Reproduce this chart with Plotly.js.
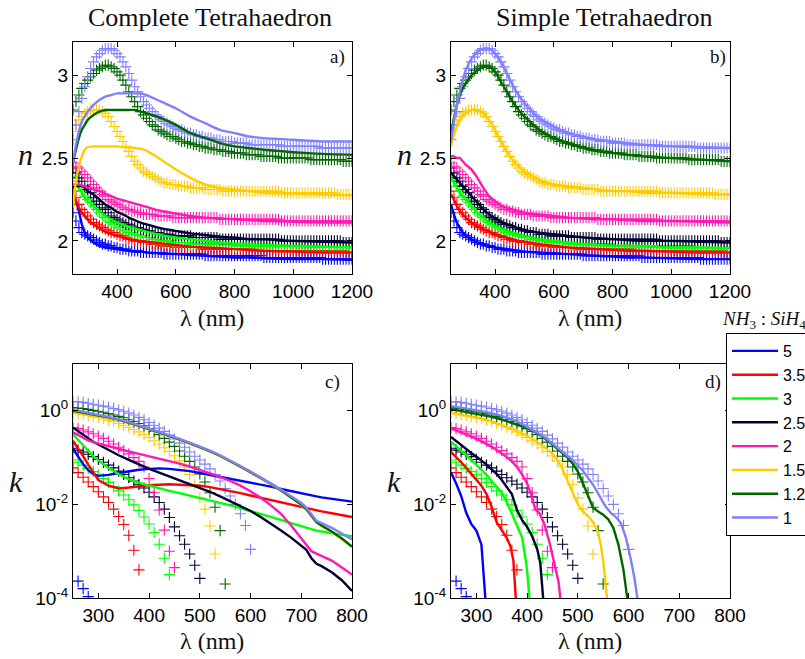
<!DOCTYPE html>
<html><head><meta charset="utf-8">
<script src="https://cdn.plot.ly/plotly-3.0.1.min.js"></script>
<style>html,body{margin:0;padding:0;background:#fff}#chart{width:805px;height:659px}</style>
</head><body><div id="chart"></div>
<script>
// ---------- series ----------
const ratios = ['5','3.5','3','2.5','2','1.5','1.25','1'];
const colors = ['#0000FF','#FF0000','#00FF00','#000033','#FF19B3','#FFCC00','#006600','#8080FF'];

// ---------- measured refractive index n (crosses, panels a & b) ----------
const lamN = [250,260,270,280,290,300,310,320,330,340,350,360,370,380,390,400,410,420,430,440,
450,460,470,480,490,500,510,520,530,540,550,560,570,580,590,600,610,620,630,640,
650,660,670,680,690,700,710,720,730,740,750,760,770,780,790,800,810,820,830,840,
850,860,870,880,890,900,910,920,930,940,950,960,970,980,990,1000,1010,1020,1030,1040,
1050,1060,1070,1080,1090,1100,1110,1120,1130,1140,1150,1160,1170,1180,1190,1200];
const nMeas_5 = [2.17,2.12,2.08,2.05,2.04,2.03,2.02,2.01,2.00,1.99, 1.98,1.98,1.97,1.97,1.96,1.96,1.95,1.95,1.95,1.94,
1.94,1.94,1.94,1.93,1.93,1.93,1.93,1.93,1.93,1.93, 1.93,1.92,1.92,1.92,1.92,1.92,1.92,1.92,1.92,1.92,
1.92,1.92,1.92,1.92,1.92,1.91,1.91,1.91,1.91,1.91, 1.91,1.91,1.91,1.91,1.91,1.91,1.91,1.91,1.91,1.91,
1.91,1.91,1.91,1.91,1.91,1.90,1.90,1.90,1.90,1.90, 1.90,1.90,1.90,1.90,1.90,1.90,1.90,1.90,1.90,1.90,
1.90,1.90,1.90,1.90,1.90,1.89,1.89,1.89,1.89,1.89, 1.89,1.89,1.89,1.89,1.89,1.89];
const nMeas_35 = [2.30,2.26,2.22,2.19,2.17,2.15,2.13,2.11,2.10,2.09, 2.08,2.07,2.06,2.05,2.05,2.04,2.03,2.03,2.02,2.01,
2.01,2.00,2.00,2.00,1.99,1.99,1.99,1.98,1.98,1.98, 1.97,1.97,1.97,1.97,1.97,1.96,1.96,1.96,1.96,1.96,
1.96,1.96,1.96,1.96,1.95,1.95,1.95,1.95,1.95,1.95, 1.95,1.95,1.95,1.95,1.95,1.95,1.95,1.95,1.95,1.95,
1.95,1.95,1.94,1.94,1.94,1.94,1.94,1.94,1.94,1.94, 1.94,1.94,1.94,1.94,1.94,1.94,1.94,1.94,1.94,1.94,
1.94,1.94,1.94,1.94,1.94,1.94,1.94,1.94,1.94,1.94, 1.94,1.94,1.94,1.93,1.93,1.93];
const nMeas_3 = [2.39,2.36,2.33,2.30,2.27,2.25,2.23,2.21,2.19,2.17, 2.15,2.14,2.12,2.11,2.10,2.09,2.08,2.07,2.06,2.05,
2.05,2.04,2.04,2.03,2.03,2.02,2.02,2.01,2.01,2.01, 2.00,2.00,2.00,2.00,1.99,1.99,1.99,1.99,1.99,1.99,
1.98,1.98,1.98,1.98,1.98,1.98,1.98,1.98,1.98,1.98, 1.98,1.98,1.98,1.98,1.98,1.97,1.97,1.97,1.97,1.97,
1.97,1.97,1.97,1.97,1.97,1.97,1.97,1.97,1.97,1.97, 1.97,1.97,1.97,1.97,1.97,1.97,1.97,1.97,1.97,1.97,
1.97,1.97,1.96,1.96,1.96,1.96,1.96,1.96,1.96,1.96, 1.96,1.96,1.96,1.96,1.96,1.96];
const nMeas_25 = [2.44,2.41,2.38,2.36,2.33,2.31,2.29,2.26,2.24,2.22, 2.20,2.19,2.17,2.15,2.14,2.13,2.12,2.11,2.10,2.10,
2.09,2.08,2.08,2.07,2.07,2.06,2.06,2.05,2.05,2.05, 2.04,2.04,2.04,2.04,2.03,2.03,2.03,2.03,2.03,2.03,
2.03,2.02,2.02,2.02,2.02,2.02,2.02,2.02,2.02,2.02, 2.01,2.01,2.01,2.01,2.01,2.01,2.01,2.01,2.01,2.01,
2.01,2.01,2.01,2.01,2.01,2.01,2.01,2.01,2.01,2.01, 2.01,2.00,2.00,2.00,2.00,2.00,2.00,2.00,2.00,2.00,
2.00,2.00,2.00,2.00,2.00,2.00,2.00,2.00,2.00,2.00, 2.00,2.00,1.99,1.99,1.99,1.99];
const nMeas_2 = [2.47,2.45,2.44,2.42,2.40,2.38,2.36,2.34,2.32,2.30, 2.28,2.27,2.25,2.24,2.23,2.22,2.21,2.20,2.19,2.19,
2.18,2.18,2.17,2.17,2.16,2.16,2.16,2.16,2.15,2.15, 2.15,2.15,2.15,2.15,2.14,2.14,2.14,2.14,2.14,2.14,
2.14,2.14,2.14,2.14,2.14,2.14,2.14,2.14,2.14,2.14, 2.13,2.13,2.13,2.13,2.13,2.13,2.13,2.13,2.13,2.13,
2.13,2.13,2.13,2.13,2.13,2.13,2.13,2.13,2.13,2.13, 2.13,2.12,2.12,2.12,2.12,2.12,2.12,2.12,2.12,2.12,
2.12,2.12,2.12,2.12,2.12,2.12,2.12,2.12,2.12,2.12, 2.12,2.12,2.12,2.12,2.12,2.12];
const nMeas_15 = [2.66,2.70,2.73,2.75,2.77,2.78,2.79,2.79,2.79,2.79, 2.78,2.77,2.75,2.72,2.69,2.66,2.63,2.60,2.57,2.54,
2.51,2.48,2.46,2.44,2.42,2.41,2.40,2.39,2.38,2.37, 2.36,2.35,2.35,2.34,2.34,2.34,2.33,2.33,2.33,2.33,
2.32,2.32,2.32,2.32,2.32,2.31,2.31,2.31,2.31,2.31, 2.31,2.30,2.30,2.30,2.30,2.30,2.30,2.30,2.30,2.30,
2.30,2.30,2.30,2.30,2.30,2.30,2.30,2.30,2.30,2.30, 2.30,2.29,2.29,2.29,2.29,2.29,2.29,2.29,2.29,2.29,
2.29,2.29,2.29,2.29,2.29,2.29,2.29,2.29,2.29,2.29, 2.28,2.28,2.28,2.28,2.28,2.28];
const nMeas_125 = [2.79,2.84,2.88,2.92,2.95,2.97,2.99,3.01,3.03,3.04, 3.05,3.06,3.06,3.05,3.04,3.02,3.00,2.97,2.94,2.90,
2.87,2.84,2.81,2.78,2.76,2.74,2.72,2.70,2.69,2.67, 2.66,2.65,2.64,2.63,2.63,2.62,2.61,2.60,2.60,2.59,
2.59,2.58,2.58,2.57,2.57,2.56,2.56,2.56,2.55,2.55, 2.55,2.54,2.54,2.54,2.53,2.53,2.53,2.53,2.53,2.52,
2.52,2.52,2.52,2.52,2.51,2.51,2.51,2.51,2.51,2.51, 2.50,2.50,2.50,2.50,2.50,2.50,2.50,2.50,2.50,2.50,
2.50,2.49,2.49,2.49,2.49,2.49,2.49,2.49,2.49,2.49, 2.49,2.49,2.48,2.48,2.48,2.48];
const nMeas_1 = [2.61,2.70,2.78,2.86,2.93,2.99,3.04,3.08,3.11,3.13, 3.15,3.16,3.16,3.16,3.15,3.13,3.11,3.08,3.05,3.01,
2.97,2.93,2.90,2.87,2.84,2.82,2.80,2.78,2.76,2.75, 2.73,2.72,2.71,2.70,2.69,2.68,2.67,2.67,2.66,2.65,
2.65,2.64,2.64,2.63,2.63,2.62,2.62,2.62,2.61,2.61, 2.61,2.60,2.60,2.60,2.60,2.59,2.59,2.59,2.59,2.59,
2.58,2.58,2.58,2.58,2.58,2.58,2.58,2.58,2.58,2.58, 2.58,2.57,2.57,2.57,2.57,2.57,2.57,2.57,2.57,2.57,
2.57,2.57,2.57,2.57,2.56,2.56,2.56,2.56,2.56,2.56, 2.56,2.56,2.56,2.56,2.56,2.56];

// ---------- modelled n ----------
const lamFitN = [250,260,270,280,290,300,320,340,360,380,400,420,440,460,480,500,550,600,650,700,750,800,850,900,1000,1100,1200];
// a) complete tetrahedron
const nA_5   = [2.28,2.24,2.18,2.10,2.05,2.02,1.99,1.97,1.96,1.955,1.95,1.945,1.94,1.935,1.935,1.93,1.925,1.92,1.915,1.91,1.905,1.90,1.90,1.895,1.89,1.89,1.885];
const nA_35  = [2.28,2.24,2.20,2.17,2.15,2.13,2.10,2.075,2.055,2.04,2.03,2.02,2.01,2.005,2.0,1.995,1.985,1.975,1.965,1.96,1.955,1.95,1.945,1.94,1.935,1.93,1.93];
const nA_3   = [2.30,2.33,2.32,2.29,2.26,2.24,2.21,2.18,2.15,2.13,2.11,2.10,2.085,2.075,2.065,2.055,2.035,2.02,2.01,2.0,1.99,1.985,1.98,1.975,1.97,1.965,1.96];
const nA_25  = [2.32,2.33,2.33,2.33,2.32,2.30,2.28,2.25,2.22,2.20,2.175,2.16,2.14,2.125,2.11,2.10,2.075,2.06,2.045,2.035,2.025,2.02,2.01,2.01,2.0,1.995,1.99];
const nA_2   = [2.34,2.34,2.34,2.335,2.33,2.32,2.31,2.30,2.285,2.27,2.255,2.245,2.235,2.225,2.215,2.205,2.18,2.165,2.15,2.14,2.135,2.13,2.125,2.12,2.115,2.11,2.11];
const nA_15  = [2.20,2.36,2.45,2.51,2.55,2.565,2.57,2.57,2.57,2.57,2.57,2.565,2.565,2.56,2.555,2.545,2.49,2.43,2.38,2.34,2.32,2.31,2.30,2.29,2.285,2.28,2.275];
const nA_125 = [2.47,2.55,2.62,2.67,2.70,2.73,2.76,2.78,2.79,2.79,2.79,2.79,2.79,2.79,2.78,2.77,2.74,2.70,2.65,2.62,2.59,2.57,2.56,2.55,2.535,2.525,2.52];
const nA_1   = [2.47,2.58,2.66,2.72,2.75,2.78,2.82,2.85,2.87,2.88,2.89,2.89,2.89,2.89,2.89,2.88,2.84,2.80,2.75,2.71,2.67,2.65,2.63,2.62,2.61,2.60,2.60];
// b) simple tetrahedron
const nB_5   = [2.22,2.16,2.11,2.08,2.05,2.03,2.01,1.99,1.98,1.97,1.96,1.955,1.95,1.945,1.94,1.935,1.93,1.925,1.92,1.915,1.91,1.905,1.90,1.90,1.895,1.89,1.89];
const nB_35  = [2.28,2.25,2.21,2.18,2.16,2.14,2.11,2.09,2.07,2.055,2.04,2.03,2.02,2.01,2.0,1.995,1.98,1.97,1.96,1.955,1.95,1.945,1.94,1.94,1.935,1.93,1.93];
const nB_3   = [2.38,2.35,2.32,2.29,2.27,2.25,2.21,2.17,2.14,2.11,2.09,2.075,2.06,2.05,2.04,2.03,2.01,2.0,1.99,1.98,1.975,1.97,1.97,1.965,1.96,1.96,1.955];
const nB_25  = [2.41,2.39,2.37,2.35,2.33,2.31,2.27,2.23,2.19,2.16,2.135,2.115,2.10,2.09,2.075,2.065,2.05,2.04,2.03,2.02,2.015,2.01,2.005,2.0,2.0,1.995,1.99];
const nB_2   = [2.51,2.51,2.50,2.50,2.48,2.46,2.43,2.38,2.32,2.27,2.24,2.215,2.20,2.19,2.18,2.17,2.16,2.15,2.14,2.135,2.13,2.13,2.125,2.12,2.12,2.115,2.11];
const nB_15  = [2.57,2.64,2.69,2.73,2.76,2.77,2.79,2.79,2.77,2.73,2.67,2.60,2.54,2.49,2.45,2.42,2.37,2.34,2.33,2.32,2.31,2.30,2.30,2.29,2.29,2.28,2.28];
const nB_125 = [2.64,2.74,2.82,2.88,2.92,2.95,3.00,3.03,3.05,3.05,3.02,2.96,2.90,2.84,2.79,2.75,2.67,2.62,2.59,2.56,2.54,2.53,2.52,2.51,2.50,2.49,2.48];
const nB_1   = [2.60,2.72,2.82,2.90,2.97,3.03,3.10,3.14,3.16,3.16,3.13,3.08,3.01,2.94,2.88,2.83,2.74,2.69,2.65,2.63,2.61,2.60,2.59,2.58,2.57,2.565,2.56];

// ---------- measured extinction coefficient, as log10(k) (crosses, panels c & d) ----------
const lamK = [250,260,270,280,290,300,310,320,330,340,350,360,370,380,390,400,410,420,430,440,
450,460,470,480,490,500,510,520,530,540,550,560,570,580,590,600];
const kMeas_5   = [null,-3.64,-3.80,-3.97];
const kMeas_35  = [-1.22,-1.32,-1.42,-1.52,-1.62,-1.73,-1.84,-1.96,-2.10,-2.26,-2.43,-2.66,-2.98,-3.40];
const kMeas_3   = [-1.05,-1.10,-1.16,-1.23,-1.30,-1.37,-1.45,-1.53,-1.62,-1.71,-1.80,-1.90,-2.01,-2.13,-2.27,-2.42,-2.60,-2.85,-3.15,-3.50];
const kMeas_25  = [-0.80,-0.84,-0.88,-0.93,-0.98,-1.04,-1.10,-1.16,-1.22,-1.29,-1.36,-1.43,-1.50,-1.57,-1.65,-1.74,-1.84,-1.96,-2.10,-2.28,-2.48,-2.67,-2.85,-3.06,-3.30,-3.58];
const kMeas_2   = [-0.36,-0.38,-0.41,-0.45,-0.49,-0.54,-0.59,-0.65,-0.71,-0.78,-0.85,-0.92,-1.00,-1.08,-1.20,-1.45,-1.75,-2.12,-2.55,-3.00,-3.35];
const kMeas_15  = [-0.05,-0.06,-0.08,-0.10,-0.12,-0.14,-0.17,-0.20,-0.23,-0.27,-0.31,-0.35,-0.40,-0.45,-0.51,-0.57,-0.64,-0.71,-0.79,-0.87,-0.96,-1.07,-1.20,-1.36,-1.58,-1.86,-2.10,-2.46,-3.06];
const kMeas_125 = [0.07,0.06,0.05,0.03,0.01,-0.01,-0.03,-0.06,-0.09,-0.12,-0.15,-0.19,-0.23,-0.27,-0.32,-0.38,-0.44,-0.51,-0.59,-0.67,-0.76,-0.86,-0.97,-1.08,-1.20,-1.35,-1.52,-1.75,-2.06,-2.56,-3.70];
const kMeas_1   = [0.20,0.19,0.18,0.16,0.14,0.12,0.10,0.08,0.05,0.02,-0.01,-0.05,-0.09,-0.14,-0.19,-0.25,-0.31,-0.37,-0.44,-0.52,-0.60,-0.69,-0.78,-0.88,-0.97,-1.05,-1.14,-1.24,-1.36,-1.50,-1.66,-1.82,-2.00,-2.20,-2.45,-2.96];

// ---------- modelled k, complete tetrahedron (panel c), log10(k) ----------
const lamFitK = [250,260,270,280,290,300,320,340,360,380,400,420,440,460,480,500,520,540,560,580,600,620,640,660,680,700,710,720,730,740,760,780,800];
const kC_5   = [-0.81,-0.98,-1.14,-1.27,-1.35,-1.39,-1.37,-1.33,-1.29,-1.26,-1.24,-1.23,-1.24,-1.26,-1.29,-1.33,-1.37,-1.41,-1.45,-1.49,-1.54,-1.58,-1.62,-1.67,-1.72,-1.76,-1.79,-1.81,-1.83,-1.85,-1.88,-1.91,-1.94];
const kC_35  = [-0.64,-0.80,-0.97,-1.15,-1.32,-1.48,-1.60,-1.66,-1.64,-1.61,-1.59,-1.58,-1.57,-1.58,-1.59,-1.60,-1.63,-1.67,-1.71,-1.76,-1.81,-1.86,-1.91,-1.96,-2.01,-2.06,-2.08,-2.10,-2.13,-2.15,-2.19,-2.23,-2.27];
const kC_3   = [-0.50,-0.62,-0.74,-0.86,-0.97,-1.06,-1.22,-1.35,-1.46,-1.54,-1.60,-1.66,-1.71,-1.76,-1.81,-1.86,-1.91,-1.96,-2.02,-2.08,-2.14,-2.20,-2.26,-2.33,-2.40,-2.47,-2.50,-2.53,-2.56,-2.58,-2.62,-2.65,-2.68];
const kC_25  = [-0.36,-0.44,-0.52,-0.59,-0.66,-0.72,-0.84,-0.95,-1.05,-1.15,-1.24,-1.32,-1.40,-1.48,-1.56,-1.64,-1.73,-1.83,-1.93,-2.03,-2.14,-2.27,-2.41,-2.56,-2.71,-2.87,-2.97,-3.15,-3.27,-3.32,-3.45,-3.62,-3.85];
const kC_2   = [-0.46,-0.52,-0.58,-0.63,-0.67,-0.70,-0.76,-0.82,-0.87,-0.92,-0.97,-1.02,-1.07,-1.13,-1.19,-1.26,-1.33,-1.41,-1.50,-1.60,-1.72,-1.86,-2.02,-2.20,-2.45,-2.72,-2.85,-3.00,-3.05,-3.10,-3.20,-3.35,-3.50];
const kC_15  = [-0.04,-0.05,-0.06,-0.07,-0.09,-0.11,-0.15,-0.20,-0.26,-0.33,-0.40,-0.47,-0.54,-0.62,-0.70,-0.78,-0.87,-0.97,-1.08,-1.20,-1.32,-1.44,-1.57,-1.71,-1.86,-2.01,-2.11,-2.24,-2.39,-2.46,-2.59,-2.74,-2.91];
const kC_125 = [0.00,-0.02,-0.03,-0.05,-0.07,-0.09,-0.14,-0.19,-0.25,-0.32,-0.39,-0.46,-0.53,-0.61,-0.69,-0.77,-0.86,-0.96,-1.07,-1.19,-1.31,-1.43,-1.56,-1.70,-1.85,-2.00,-2.10,-2.23,-2.38,-2.45,-2.58,-2.73,-2.90];
const kC_1   = [0.02,0.00,-0.02,-0.04,-0.06,-0.08,-0.13,-0.18,-0.24,-0.31,-0.38,-0.45,-0.52,-0.60,-0.68,-0.76,-0.85,-0.95,-1.06,-1.18,-1.30,-1.42,-1.55,-1.68,-1.82,-1.97,-2.07,-2.20,-2.35,-2.40,-2.50,-2.62,-2.75];

// ---------- modelled k, simple tetrahedron (panel d), log10(k) ----------
const lamD_5   = [250,260,270,280,290,300,310,314,318];
const kD_5     = [-1.32,-1.55,-1.82,-2.18,-2.42,-2.56,-2.86,-3.36,-4.05];
const lamD_35  = [250,260,270,280,290,300,310,320,330,340,350,360,367,373,378];
const kD_35    = [-0.88,-0.98,-1.10,-1.22,-1.35,-1.47,-1.60,-1.78,-2.05,-2.38,-2.55,-2.72,-2.89,-3.20,-4.05];
const lamD_3   = [250,260,270,280,290,300,310,320,330,340,350,360,370,380,390,396,400,405];
const kD_3     = [-0.66,-0.75,-0.85,-0.95,-1.05,-1.15,-1.25,-1.37,-1.50,-1.62,-1.75,-1.95,-2.20,-2.42,-2.70,-3.10,-3.40,-4.05];
const lamD_25  = [250,260,270,280,290,300,310,320,330,340,350,360,370,380,390,400,410,420,426,432];
const kD_25    = [-0.56,-0.65,-0.73,-0.82,-0.90,-0.98,-1.06,-1.15,-1.25,-1.35,-1.48,-1.62,-1.78,-2.12,-2.33,-2.48,-2.68,-2.96,-3.25,-4.05];
const lamD_2   = [250,260,270,280,290,300,310,320,330,340,350,360,370,380,390,400,410,416,425,435,445,455,462,466];
const kD_2     = [-0.38,-0.42,-0.46,-0.50,-0.55,-0.60,-0.65,-0.71,-0.77,-0.84,-0.91,-0.99,-1.08,-1.20,-1.36,-1.55,-1.85,-2.10,-2.20,-2.45,-2.85,-3.35,-3.65,-4.05];
const lamD_15  = [250,270,290,310,330,350,370,390,410,430,450,460,470,480,490,500,510,520,530,540,545,550,558];
const kD_15    = [-0.04,-0.08,-0.12,-0.17,-0.23,-0.30,-0.38,-0.48,-0.60,-0.74,-0.92,-1.05,-1.25,-1.50,-1.75,-2.00,-2.15,-2.25,-2.38,-2.60,-2.85,-3.20,-4.05];
const lamD_125 = [250,270,290,310,330,350,370,390,410,430,450,470,480,490,500,510,520,530,540,550,560,570,580,590,598];
const kD_125   = [0.04,0.00,-0.04,-0.08,-0.13,-0.19,-0.26,-0.33,-0.42,-0.55,-0.72,-0.90,-1.00,-1.13,-1.30,-1.55,-1.80,-2.07,-2.15,-2.22,-2.32,-2.50,-2.86,-3.40,-4.05];
const lamD_1   = [250,270,290,310,330,350,370,390,410,430,450,470,490,510,530,545,555,565,575,585,595,605,612,618];
const kD_1     = [0.10,0.07,0.03,-0.01,-0.05,-0.11,-0.18,-0.28,-0.40,-0.53,-0.70,-0.87,-1.06,-1.28,-1.58,-1.86,-2.05,-2.18,-2.27,-2.40,-2.72,-3.20,-3.60,-4.05];

// ---------- tick labels ----------
const nTicks = [2, 2.5, 3];
const xTicksN = [400, 600, 800, 1000, 1200];
const xTicksK = [300, 400, 500, 600, 700, 800];
const kTickVals = [1, 0.01, 0.0001];
const kTickText = ['10<sup>0</sup>', '10<sup>-2</sup>', '10<sup>-4</sup>'];

// ---------- build ----------
const W = 805, H = 659;
const px = v => v / W, py = v => 1 - v / H;
const pow10 = a => a.map(v => v === null ? null : Math.pow(10, v));

const nMeas = [nMeas_5, nMeas_35, nMeas_3, nMeas_25, nMeas_2, nMeas_15, nMeas_125, nMeas_1];
const nA = [nA_5, nA_35, nA_3, nA_25, nA_2, nA_15, nA_125, nA_1];
const nB = [nB_5, nB_35, nB_3, nB_25, nB_2, nB_15, nB_125, nB_1];
const kMeas = [kMeas_5, kMeas_35, kMeas_3, kMeas_25, kMeas_2, kMeas_15, kMeas_125, kMeas_1];
const kC = [kC_5, kC_35, kC_3, kC_25, kC_2, kC_15, kC_125, kC_1];
const lamD = [lamD_5, lamD_35, lamD_3, lamD_25, lamD_2, lamD_15, lamD_125, lamD_1];
const kD = [kD_5, kD_35, kD_3, kD_25, kD_2, kD_15, kD_125, kD_1];

const traces = [];
function crosses(x, y, i, xa, ya) {
  traces.push({x: x, y: y, xaxis: xa, yaxis: ya, type: 'scatter', mode: 'markers', showlegend: false,
    marker: {symbol: 'cross-thin-open', size: 8, color: colors[i], line: {color: colors[i], width: 1.1}},
    hoverinfo: 'skip'});
}
function line(x, y, i, xa, ya, legend, shape) {
  traces.push({x: x, y: y, xaxis: xa, yaxis: ya, type: 'scatter', mode: 'lines', name: ratios[i],
    showlegend: legend, line: {color: colors[i], width: 2.4, shape: shape || 'linear', smoothing: 0.6},
    hoverinfo: 'skip'});
}
for (let i = 0; i < 8; i++) crosses(lamN, nMeas[i], i, 'x', 'y');
for (let i = 0; i < 8; i++) line(lamFitN, nA[i], i, 'x', 'y', false, 'spline');
for (let i = 0; i < 8; i++) crosses(lamN, nMeas[i], i, 'x2', 'y2');
for (let i = 0; i < 8; i++) line(lamFitN, nB[i], i, 'x2', 'y2', false, 'spline');
for (let i = 0; i < 8; i++) crosses(i === 0 ? [250,260,270,280] : lamK, pow10(kMeas[i]), i, 'x3', 'y3');
for (let i = 0; i < 8; i++) line(lamFitK, pow10(kC[i]), i, 'x3', 'y3', false);
for (let i = 0; i < 8; i++) crosses(i === 0 ? [250,260,270,280] : lamK, pow10(kMeas[i]), i, 'x4', 'y4');
for (let i = 0; i < 8; i++) line(lamD[i], pow10(kD[i]), i, 'x4', 'y4', true);

const tickFont = {family: 'Liberation Sans, Arial, sans-serif', size: 19, color: '#000'};
function ax(extra) {
  return Object.assign({showline: true, linecolor: '#000', linewidth: 1, mirror: 'ticks', ticks: 'inside',
    ticklen: 5, tickcolor: '#000', tickwidth: 1, showgrid: false, zeroline: false, tickfont: tickFont,
    automargin: false, fixedrange: true}, extra);
}
const colL = [px(73), px(352)], colR = [px(451), px(730)];
const rowT = [py(274), py(42)], rowB = [py(598), py(364)];

const serif = 'Liberation Serif, Times New Roman, serif';
function ann(text, x, y, size, xanchor, extra) {
  return Object.assign({text: text, x: x, y: y, xref: 'paper', yref: 'paper', showarrow: false,
    xanchor: xanchor || 'center', yanchor: 'middle', font: {family: serif, size: size, color: '#111'}}, extra || {});
}

const layout = {
  width: W, height: H,
  margin: {l: 0, r: 0, t: 0, b: 0, autoexpand: false},
  paper_bgcolor: '#fff', plot_bgcolor: '#fff',
  xaxis:  ax({domain: colL, anchor: 'y',  range: [250, 1200], tickvals: xTicksN}),
  yaxis:  ax({domain: rowT, anchor: 'x',  range: [1.8, 3.2], tickvals: nTicks}),
  xaxis2: ax({domain: colR, anchor: 'y2', range: [250, 1200], tickvals: xTicksN}),
  yaxis2: ax({domain: rowT, anchor: 'x2', range: [1.8, 3.2], tickvals: nTicks}),
  xaxis3: ax({domain: colL, anchor: 'y3', range: [250, 800], tickvals: xTicksK}),
  yaxis3: ax({domain: rowB, anchor: 'x3', type: 'log', range: [-4, 1], tickvals: kTickVals, ticktext: kTickText}),
  xaxis4: ax({domain: colR, anchor: 'y4', range: [250, 800], tickvals: xTicksK}),
  yaxis4: ax({domain: rowB, anchor: 'x4', type: 'log', range: [-4, 1], tickvals: kTickVals, ticktext: kTickText}),
  showlegend: true,
  legend: {x: px(726), y: py(333), xanchor: 'left', yanchor: 'top', bgcolor: '#fff', bordercolor: '#000',
    borderwidth: 1, font: {family: 'Liberation Sans, Arial, sans-serif', size: 16, color: '#000'},
    itemwidth: 46, traceorder: 'normal'},
  annotations: [
    ann('Complete Tetrahaedron', px(210), py(18), 26),
    ann('Simple Tetrahaedron', px(604), py(18), 26),
    ann('λ (nm)', px(212), py(318), 24),
    ann('λ (nm)', px(590), py(318), 24),
    ann('λ (nm)', px(212), py(641), 24),
    ann('λ (nm)', px(590), py(641), 24),
    ann('<i>n</i>', px(25), py(155), 30),
    ann('<i>n</i>', px(404), py(155), 30),
    ann('<i>k</i>', px(16), py(481), 30),
    ann('<i>k</i>', px(394), py(481), 30),
    ann('a)', px(347), py(57), 19, 'right'),
    ann('b)', px(728), py(57), 19, 'right'),
    ann('c)', px(342), py(382), 19, 'right'),
    ann('d)', px(723), py(382), 19, 'right'),
    ann('<i>NH</i><sub>3</sub> : <i>SiH</i><sub>4</sub>', px(720), py(320), 19, 'left')
  ]
};

Plotly.newPlot('chart', traces, layout, {staticPlot: true, displayModeBar: false});
</script>
</body></html>
